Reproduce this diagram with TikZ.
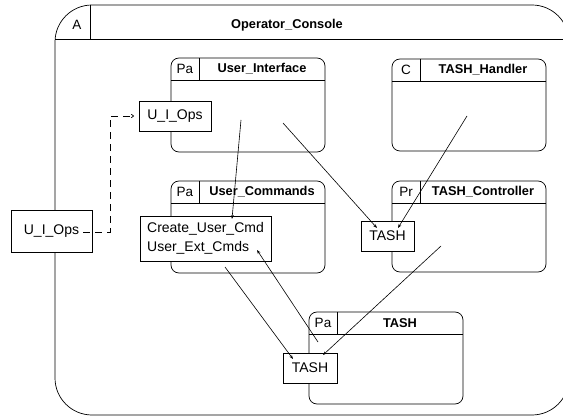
\documentclass[tikz,border=0pt]{standalone}
\usepackage{fontspec}
\setmainfont{Liberation Sans}
\usetikzlibrary{calc,arrows.meta}

\tikzset{
  partframe/.style={draw, line width=0.7pt, rounded corners=8pt, inner sep=0pt, outer sep=0pt},
  consoleframe/.style={draw, line width=0.7pt, rounded corners=37pt, inner sep=0pt, outer sep=0pt},
  port/.style={draw, fill=white, line width=0.7pt, inner sep=0pt, outer sep=0pt,
    align=left, font=\fontsize{14}{18.5}\selectfont},
  tagtext/.style={font=\fontsize{13.5}{15}\selectfont, inner sep=0pt},
  titletext/.style={font=\fontsize{12.8}{15}\selectfont\bfseries, inner sep=0pt},
  rule/.style={line width=0.7pt},
  conn/.style={line width=0.6pt, -{Stealth[length=4pt,width=3pt]}},
  flow/.style={line width=0.7pt, dash pattern=on 7pt off 5pt, -{To[length=3pt,width=4pt]}},
}

% part box: name, x, y, width, height, tag, title
\newcommand\partbox[7]{%
  \node[partframe, minimum width=#4pt, minimum height=#5pt, anchor=north west] (#1) at (#2,#3) {};
  \draw[rule] ($(#1.north west)+(0,22)$) -- ($(#1.north east)+(0,22)$);
  \draw[rule] ($(#1.north west)+(28,0)$) -- ($(#1.north west)+(28,22)$);
  \node[tagtext] at ($(#1.north west)+(14,11)$) {#6};
  \node[titletext] at ($(#1.north)+(14,11)$) {#7};
}

\begin{document}
\begin{tikzpicture}[x=1pt,y=-1pt]
  \clip (0,0) rectangle (563,417);

  % enclosing console (its right side runs past the page edge)
  \node[consoleframe, minimum width=514pt, minimum height=410pt, anchor=north west] (console) at (55,5) {};
  \draw[rule] ($(console.north west)+(0,34)$) -- ($(console.north east)+(0,34)$);
  \draw[rule] ($(console.north west)+(35,0)$) -- ($(console.north west)+(35,34)$);
  \node[tagtext] at (77,25) {A};
  \node[titletext] at (287,25) {Operator\_Console};

  % parts
  \partbox{ui}{171}{58}{154}{94}{Pa}{User\_Interface}
  \partbox{th}{392}{59}{154}{92}{C}{TASH\_Handler}
  \partbox{uc}{171}{181}{154}{92}{Pa}{User\_Commands}
  \partbox{tc}{392}{181}{154}{91}{Pr}{TASH\_Controller}
  \partbox{ta}{309}{312}{154}{92}{Pa}{TASH}

  % ports
  \node[port, minimum width=81pt, minimum height=42pt] (lops) at (51.5,231) {U\_I\_Ops};
  \node[port, minimum width=72pt, minimum height=30pt] (uiops) at (175,116) {U\_I\_Ops};
  \node[port, minimum width=131pt, minimum height=45pt] (cmds) at (205.5,238.5) {Create\_User\_Cmd\\User\_Ext\_Cmds};
  \node[port, minimum width=53pt, minimum height=30pt] (tmid) at (387.5,236) {TASH};
  \node[port, minimum width=54pt, minimum height=30pt] (tbot) at (310,368) {TASH};

  % connector end points
  \coordinate (uiIn) at (241,120);
  \coordinate (uiIn2) at (283,123);
  \coordinate (thIn) at (467,116);
  \coordinate (tcIn) at (441,246);
  \coordinate (taIn) at (318,342);
  \coordinate (ucIn) at (225,267);
  \coordinate (cmdsTop) at (232,219);
  \coordinate (cmdsExt) at (257,250);
  \coordinate (tmidA) at (377,228);
  \coordinate (tmidB) at (398,228);
  \coordinate (tbotA) at (293,359);
  \coordinate (tbotB) at (323,355);
  \coordinate (flowStart) at ($(lops.east)+(-9,1)$);
  \coordinate (flowTurn) at (110,232);
  \coordinate (flowEnd) at ($(uiops.west)+(-5,0)$);

  % connectors
  \draw[conn] (uiIn) -- (cmdsTop);
  \draw[conn] (uiIn2) -- (tmidA);
  \draw[conn] (thIn) -- (tmidB);
  \draw[conn] (taIn) -- (cmdsExt);
  \draw[conn] (ucIn) -- (tbotA);
  \draw[conn] (tcIn) -- (tbotB);
  \draw[flow] (flowStart) -- (flowTurn) |- (flowEnd);
\end{tikzpicture}
\end{document}
